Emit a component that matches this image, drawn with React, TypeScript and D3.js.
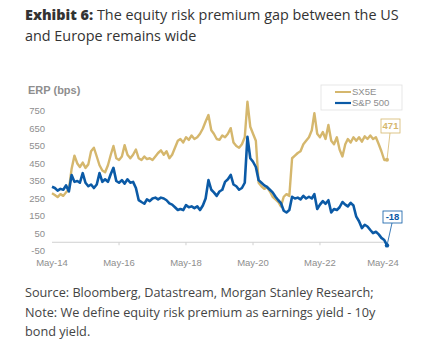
import React from "react";
import * as d3 from "d3";

// Monthly observations, May-14 .. May-24 (121 months)
const sx5e: number[] = [
  280, 270, 258, 275, 265, 285, 300, 420, 495, 450,
  430, 455, 425, 445, 520, 540, 490, 440, 410, 400,
  440, 500, 550, 480, 470, 490, 555, 500, 480, 500,
  530, 480, 470, 490, 475, 480, 470, 490, 510, 525,
  500, 520, 480, 500, 540, 580, 590, 570, 600, 585,
  610, 590, 600, 620, 650, 690, 727, 640, 620, 590,
  585, 610, 600, 620, 652, 570, 550, 540, 560, 600,
  803, 660, 620, 580, 340, 320, 305, 315, 290, 260,
  245, 230, 205, 260, 275, 265, 480, 495, 510, 520,
  560, 580, 600, 640, 738, 620, 600, 630, 590, 670,
  580, 560, 600, 530, 490, 560, 590, 570, 600, 580,
  600, 575, 605, 590, 610, 590, 600, 560, 520, 470,
  471,
];
const sp500: number[] = [
  317, 310, 295, 305, 300, 325, 290, 384, 345, 350,
  340, 395, 340, 320, 330, 310, 330, 395, 345, 360,
  345, 390, 425, 350, 340, 355, 335, 360, 340, 345,
  310, 241, 230, 220, 245, 235, 250, 255, 245, 255,
  250, 240, 222, 215, 200, 184, 190, 184, 212, 200,
  205, 195, 205, 184, 210, 250, 355, 300, 285, 265,
  290, 300, 345, 360, 385, 330, 320, 300, 310, 340,
  603, 480, 460, 430, 355, 340, 325, 316, 300, 285,
  260, 240, 224, 180, 170, 184, 260, 250, 255, 245,
  265, 250, 260, 250, 275, 190, 215, 235, 220, 240,
  170, 190, 184, 200, 230, 215, 205, 225, 210, 146,
  120, 81, 100, 90, 70, 52, 60, 45, 25, 13,
  -18,
];
const seriesNames = ["SX5E", "S&P 500"];
const yTicks = [-50, 50, 150, 250, 350, 450, 550, 650, 750];
const xTickYears = [2014, 2016, 2018, 2020, 2022, 2024];

const GOLD = "#d5b76d";
const BLUE = "#0b5aa6";
const GREY = "#8e8e8e";

export default function App() {
  const start = new Date(2014, 4, 1);
  const end = new Date(2024, 4, 1);
  const x = d3.scaleTime().domain([start, end]).range([52, 387]);
  const y = d3.scaleLinear().domain([-50, 750]).range([251, 111]);
  const dates = sx5e.map((_, i) => d3.timeMonth.offset(start, i));
  const line = d3
    .line<number>()
    .x((_, i) => x(dates[i]))
    .y((d) => y(d));

  const lastX = x(dates[dates.length - 1]);
  const gEnd = sx5e[sx5e.length - 1];
  const bEnd = sp500[sp500.length - 1];
  const fmt = d3.timeFormat("%b-%y");

  return (
    <svg
      width={425}
      height={350}
      style={{ position: "absolute", left: 0, top: 0, background: "#fff" }}
    >
      <rect x={0} y={0} width={425} height={350} fill="#fff" />
      {/* Title */}
      <text x={25} y={20} fontFamily="Open Sans" fontSize={14.4} fill="#333">
        <tspan fontWeight={800}>Exhibit 6:</tspan>
        <tspan> The equity risk premium gap between the US</tspan>
      </text>
      <text x={25} y={41} fontFamily="Open Sans" fontSize={14.4} fill="#333">
        and Europe remains wide
      </text>

      {/* Axis title */}
      <text x={28} y={94} fontFamily="Liberation Sans, Arial" fontSize={11} fontWeight="bold" fill={GREY}>
        ERP (bps)
      </text>

      {/* Y tick labels */}
      {yTicks.map((t) => (
        <text
          key={t}
          x={45}
          y={y(t)}
          dy="0.35em"
          textAnchor="end"
          fontFamily="Liberation Sans, Arial"
          fontSize={9.5}
          fill={GREY}
        >
          {t}
        </text>
      ))}

      {/* X axis line at 0 */}
      <line x1={52} x2={387} y1={y(0)} y2={y(0)} stroke="#d0d0d0" strokeWidth={1} />
      {xTickYears.map((yr, i) => {
        const d = new Date(yr, 4, 1);
        const xx = x(d);
        return (
          <g key={yr}>
            {i > 0 && i < xTickYears.length - 1 && (
              <line x1={xx} x2={xx} y1={y(0)} y2={y(0) + 3} stroke="#d0d0d0" />
            )}
            <text
              x={i === xTickYears.length - 1 ? xx - 4 : xx}
              y={266}
              textAnchor="middle"
              fontFamily="Liberation Sans, Arial"
              fontSize={9.5}
              fill={GREY}
            >
              {fmt(d)}
            </text>
          </g>
        );
      })}

      {/* Series */}
      <path d={line(sx5e) || ""} fill="none" stroke={GOLD} strokeWidth={2.4} strokeLinejoin="round" />
      <path d={line(sp500) || ""} fill="none" stroke={BLUE} strokeWidth={2.6} strokeLinejoin="round" />

      {/* End labels */}
      <line x1={lastX} y1={y(gEnd)} x2={390} y2={133} stroke={GOLD} strokeWidth={0.8} />
      <circle cx={lastX} cy={y(gEnd)} r={2} fill={GOLD} />
      <rect x={381} y={119} width={19} height={14} fill="#fff" stroke={GOLD} strokeWidth={0.8} />
      <text x={390.5} y={126} dy="0.35em" textAnchor="middle" fontFamily="Liberation Sans, Arial" fontSize={9.5} fontWeight="bold" fill={GOLD}>
        {gEnd}
      </text>

      <line x1={lastX} y1={y(bEnd)} x2={392} y2={223} stroke={BLUE} strokeWidth={0.8} />
      <circle cx={lastX} cy={y(bEnd)} r={2.2} fill={BLUE} />
      <rect x={383} y={211} width={19} height={12} fill="#fff" stroke={BLUE} strokeWidth={0.8} />
      <text x={392.5} y={217} dy="0.35em" textAnchor="middle" fontFamily="Liberation Sans, Arial" fontSize={9.5} fontWeight="bold" fill={BLUE}>
        {bEnd}
      </text>

      {/* Legend */}
      <rect x={321} y={85} width={81} height={25} fill="#fff" stroke="#e0e0e0" strokeWidth={0.8} />
      <line x1={335} x2={351} y1={92} y2={92} stroke={GOLD} strokeWidth={2} />
      <text x={352} y={92} dy="0.35em" fontFamily="Liberation Sans, Arial" fontSize={9.5} fill={GREY}>
        {seriesNames[0]}
      </text>
      <line x1={335} x2={351} y1={103} y2={103} stroke={BLUE} strokeWidth={2.2} />
      <text x={352} y={103} dy="0.35em" fontFamily="Liberation Sans, Arial" fontSize={9.5} fill={GREY}>
        {seriesNames[1]}
      </text>

      {/* Footer */}
      <text fontFamily="Open Sans" fontSize={12.7} fill="#444">
        <tspan x={25} y={297}>Source: Bloomberg, Datastream, Morgan Stanley Research;</tspan>
        <tspan x={25} y={316.5}>Note: We define equity risk premium as earnings yield - 10y</tspan>
        <tspan x={25} y={336}>bond yield.</tspan>
      </text>
    </svg>
  );
}
